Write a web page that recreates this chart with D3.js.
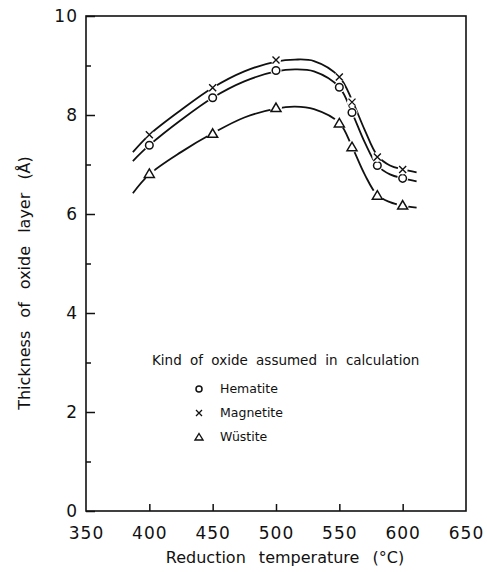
<!DOCTYPE html>
<html>
<head>
<meta charset="utf-8">
<script src="https://cdn.jsdelivr.net/npm/d3@7"></script>
<style>
    body { margin: 0; background: #fff; }
    text { font-family: "DejaVu Sans", sans-serif; fill: #111; }
</style>
</head>
<body>
<div id="chart"></div>
<script>

// measured points (temperature in °C, thickness in Å)
var temps = [400, 450, 500, 550, 560, 580, 600];
var hematite = [7.39, 8.35, 8.90, 8.56, 8.05, 6.98, 6.72];
var magnetite = [7.60, 8.55, 9.11, 8.77, 8.26, 7.15, 6.90];
var wustite = [6.82, 7.63, 8.15, 7.84, 7.36, 6.38, 6.18];

// fitted curves
var curveTemps = [387, 400, 425, 450, 475, 500, 515, 530, 550, 560, 570, 580, 590, 600, 611];
var hematiteCurve = [7.07, 7.39, 7.90, 8.35, 8.68, 8.88, 8.92, 8.88, 8.56, 8.05, 7.45, 6.98, 6.80, 6.72, 6.66];
var magnetiteCurve = [7.25, 7.60, 8.10, 8.55, 8.88, 9.08, 9.12, 9.09, 8.77, 8.30, 7.70, 7.18, 6.98, 6.90, 6.84];
var wustiteCurve = [6.42, 6.80, 7.25, 7.63, 7.95, 8.13, 8.17, 8.12, 7.84, 7.36, 6.80, 6.38, 6.24, 6.17, 6.13];

var xTicks = [350, 400, 450, 500, 550, 600, 650];
var yTicks = [0, 2, 4, 6, 8, 10];
var yMinorTicks = [1, 3, 5, 7, 9];

var series = [
    {name: "Hematite", symbol: "circle", values: hematite, curve: hematiteCurve},
    {name: "Magnetite", symbol: "cross", values: magnetite, curve: magnetiteCurve},
    {name: "Wüstite", symbol: "triangle", values: wustite, curve: wustiteCurve}
];

var margin = {top: 16, right: 21, bottom: 61, left: 86};
var width = 487 - margin.left - margin.right;
var height = 572 - margin.top - margin.bottom;

var svg = d3.select("#chart")
    .append("svg")
    .attr("width", 487)
    .attr("height", 572)
    .append("g")
    .attr("transform", "translate(" + margin.left + "," + margin.top + ")");

// scales
var x = d3.scaleLinear().domain([350, 650]).range([0, width]);
var y = d3.scaleLinear().domain([0, 10]).range([height, 0]);

// frame
svg.append("rect")
    .attr("width", width)
    .attr("height", height)
    .attr("fill", "none")
    .attr("stroke", "#111")
    .attr("stroke-width", 1.6);

// X axis, ticks point inward
var xAxis = svg.append("g")
    .attr("transform", "translate(0," + height + ")")
    .call(d3.axisBottom(x).tickValues(xTicks).tickSize(-7).tickPadding(16).tickFormat(d3.format("d")));
xAxis.select(".domain").remove();
xAxis.selectAll(".tick line").attr("stroke", "#111").attr("stroke-width", 1.5)
    .filter(function(d) { return d == 350 || d == 650; }).remove();
xAxis.selectAll("text").style("font-size", "17px").attr("letter-spacing", "1px").attr("fill", "#111");

// Y axis
var yAxis = svg.append("g")
    .call(d3.axisLeft(y).tickValues(yTicks).tickSize(-9).tickPadding(8));
yAxis.select(".domain").remove();
yAxis.selectAll(".tick line").attr("stroke", "#111").attr("stroke-width", 1.5);
yAxis.selectAll("text").style("font-size", "17px").attr("letter-spacing", "1px").attr("fill", "#111");

var yMinor = svg.append("g")
    .call(d3.axisLeft(y).tickValues(yMinorTicks).tickSize(-5).tickFormat(""));
yMinor.select(".domain").remove();
yMinor.selectAll(".tick line").attr("stroke", "#111").attr("stroke-width", 1.5);

// axis labels
svg.append("text")
    .attr("text-anchor", "middle")
    .attr("x", 199)
    .attr("y", height + 52)
    .style("font-size", "16px")
    .attr("word-spacing", "8px")
    .text("Reduction temperature (°C)");

svg.append("text")
    .attr("text-anchor", "middle")
    .attr("transform", "translate(-56," + (283 - margin.top) + ") rotate(-90)")
    .style("font-size", "16px")
    .attr("word-spacing", "8px")
    .text("Thickness of oxide layer (Å)");

// curves
var line = d3.line()
    .x(function(d) { return x(d[0]); })
    .y(function(d) { return y(d[1]); })
    .curve(d3.curveCatmullRom.alpha(0.5));

svg.selectAll(".curve")
    .data(series)
    .enter()
    .append("path")
    .attr("class", "curve")
    .attr("fill", "none")
    .attr("stroke", "#111")
    .attr("stroke-width", 1.8)
    .attr("d", function(s) { return line(curveTemps.map(function(t, i) { return [t, s.curve[i]]; })); });

// marker drawing
function drawMarker(g, symbol) {
    if (symbol == "circle") {
        g.append("circle").attr("r", 5.5).attr("fill", "#fff");
        g.append("circle").attr("r", 3.8).attr("fill", "#fff").attr("stroke", "#111").attr("stroke-width", 1.5);
    } else if (symbol == "cross") {
        g.append("circle").attr("r", 5).attr("fill", "#fff");
        g.append("path").attr("d", "M-3.5,-3.5L3.5,3.5M-3.5,3.5L3.5,-3.5")
            .attr("stroke", "#111").attr("stroke-width", 1.4);
    } else {
        g.append("circle").attr("r", 6).attr("fill", "#fff");
        g.append("path").attr("d", "M0,-4.5L5,4L-5,4Z")
            .attr("fill", "#fff").attr("stroke", "#111").attr("stroke-width", 1.5);
    }
}

series.forEach(function(s) {
    svg.selectAll(".pt-" + s.symbol)
        .data(s.values)
        .enter()
        .append("g")
        .attr("transform", function(d, i) { return "translate(" + x(temps[i]) + "," + y(d) + ")"; })
        .each(function() { drawMarker(d3.select(this), s.symbol); });
});

// legend
var legend = svg.append("g").attr("transform", "translate(66,349)");
legend.append("text")
    .attr("x", 0)
    .attr("y", 0)
    .style("font-size", "13.5px")
    .attr("word-spacing", "4px")
    .text("Kind of oxide assumed in calculation");

var items = legend.selectAll(".item")
    .data(series)
    .enter()
    .append("g")
    .attr("transform", function(d, i) { return "translate(47," + (28 + i * 24) + ")"; });
items.each(function(s) {
    var g = d3.select(this).append("g").attr("transform", "translate(0,-4)");
    if (s.symbol == "circle") {
        g.append("circle").attr("r", 3).attr("fill", "none").attr("stroke", "#111").attr("stroke-width", 1.5);
    } else if (s.symbol == "cross") {
        g.append("path").attr("d", "M-3,-3L3,3M-3,3L3,-3").attr("stroke", "#111").attr("stroke-width", 1.3);
    } else {
        g.append("path").attr("d", "M0,-3.5L4,3L-4,3Z").attr("fill", "none").attr("stroke", "#111").attr("stroke-width", 1.4);
    }
});
items.append("text")
    .attr("x", 21)
    .attr("y", 0)
    .style("font-size", "12.5px")
    .text(function(s) { return s.name; });

</script>
</body>
</html>
